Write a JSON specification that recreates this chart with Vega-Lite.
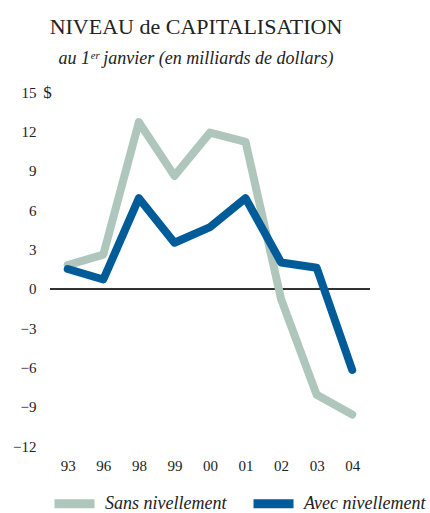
{
  "$schema": "https://vega.github.io/schema/vega-lite/v6.json",
  "width": 320,
  "height": 354,
  "autosize": {"type": "none"},
  "padding": {"left": 50, "top": 92, "right": 60, "bottom": 67},
  "background": "white",
  "config": {"view": {"stroke": null}, "font": "Liberation Serif"},
  "title": {
    "text": "NIVEAU de CAPITALISATION",
    "subtitle": "au 1ᵉʳ janvier (en milliards de dollars)",
    "anchor": "middle",
    "frame": "group",
    "fontSize": 22,
    "fontWeight": "normal",
    "font": "Liberation Serif",
    "color": "#222222",
    "subtitleFont": "Liberation Serif",
    "subtitleFontStyle": "italic",
    "subtitleFontSize": 18,
    "subtitleColor": "#222222",
    "subtitlePadding": 11,
    "offset": 14,
    "dx": -14
  },
  "data": {
    "values": [
      {"year": "93", "series": "Sans nivellement", "value": 1.8},
      {"year": "96", "series": "Sans nivellement", "value": 2.6},
      {"year": "98", "series": "Sans nivellement", "value": 12.7},
      {"year": "99", "series": "Sans nivellement", "value": 8.6},
      {"year": "00", "series": "Sans nivellement", "value": 11.9},
      {"year": "01", "series": "Sans nivellement", "value": 11.2},
      {"year": "02", "series": "Sans nivellement", "value": -0.8},
      {"year": "03", "series": "Sans nivellement", "value": -8.1},
      {"year": "04", "series": "Sans nivellement", "value": -9.6},
      {"year": "93", "series": "Avec nivellement", "value": 1.5},
      {"year": "96", "series": "Avec nivellement", "value": 0.7},
      {"year": "98", "series": "Avec nivellement", "value": 6.9},
      {"year": "99", "series": "Avec nivellement", "value": 3.5},
      {"year": "00", "series": "Avec nivellement", "value": 4.7},
      {"year": "01", "series": "Avec nivellement", "value": 6.9},
      {"year": "02", "series": "Avec nivellement", "value": 2.0},
      {"year": "03", "series": "Avec nivellement", "value": 1.6},
      {"year": "04", "series": "Avec nivellement", "value": -6.2}
    ]
  },
  "layer": [
    {
      "mark": {"type": "rule", "color": "#333333", "strokeWidth": 1.2},
      "encoding": {
        "y": {
          "datum": 0,
          "type": "quantitative",
          "scale": {"domain": [-12, 15], "nice": false, "zero": false},
          "axis": {
            "values": [-12, -9, -6, -3, 0, 3, 6, 9, 12, 15],
            "tickCount": 10,
            "labelOverlap": false,
            "domain": false,
            "ticks": false,
            "grid": false,
            "labelFontSize": 15,
            "labelColor": "#222222",
            "labelPadding": 14,
            "title": "$",
            "titleAngle": 0,
            "titleFontSize": 17,
            "titleFontWeight": "normal",
            "titleColor": "#222222",
            "titleX": -3,
            "titleY": 0,
            "titleAlign": "center",
            "titleBaseline": "middle"
          }
        }
      }
    },
    {
      "mark": {"type": "line", "strokeWidth": 8, "strokeCap": "round", "strokeJoin": "round"},
      "encoding": {
        "x": {
          "field": "year",
          "type": "ordinal",
          "sort": null,
          "scale": {"type": "point", "padding": 0.5},
          "axis": {"domain": false, "ticks": false, "labelAngle": 0, "labelFontSize": 15, "labelPadding": 12, "title": null, "labelColor": "#222222"}
        },
        "y": {
          "field": "value",
          "type": "quantitative",
          "scale": {"domain": [-12, 15], "nice": false, "zero": false},
          "axis": {
            "values": [-12, -9, -6, -3, 0, 3, 6, 9, 12, 15],
            "tickCount": 10,
            "labelOverlap": false,
            "domain": false,
            "ticks": false,
            "grid": false,
            "labelFontSize": 15,
            "labelColor": "#222222",
            "labelPadding": 14,
            "title": "$",
            "titleAngle": 0,
            "titleFontSize": 17,
            "titleFontWeight": "normal",
            "titleColor": "#222222",
            "titleX": -3,
            "titleY": 0,
            "titleAlign": "center",
            "titleBaseline": "middle"
          }
        },
        "color": {
          "field": "series",
          "type": "nominal",
          "scale": {"domain": ["Sans nivellement", "Avec nivellement"], "range": ["#aec6bb", "#005c99"]},
          "legend": {
            "orient": "none",
            "legendX": 0,
            "legendY": 387,
            "padding": 0,
            "direction": "horizontal",
            "title": null,
            "symbolType": "stroke",
            "symbolStrokeWidth": 9,
            "symbolSize": 1600,
            "labelFont": "Liberation Serif",
            "labelFontStyle": "italic",
            "labelFontSize": 18,
            "labelColor": "#222222",
            "columnPadding": 8,
            "labelOffset": 6
          }
        }
      }
    }
  ]
}
